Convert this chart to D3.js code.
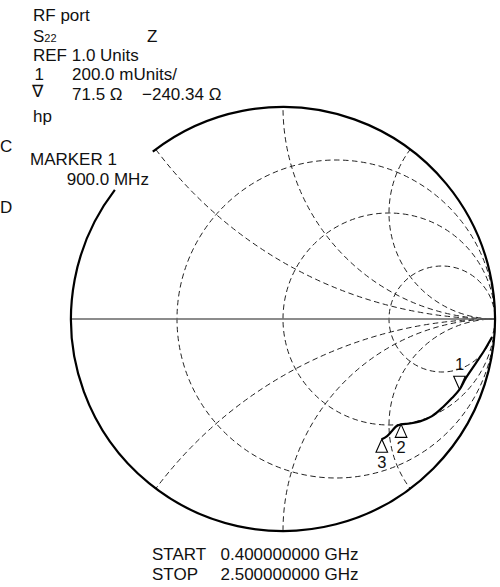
<!DOCTYPE html>
<html><head><meta charset="utf-8">
<script src="https://cdn.jsdelivr.net/npm/d3@7"></script>
<style>
body{margin:0;background:#fff}
svg{display:block}
text{font-family:"Liberation Sans",Arial,Helvetica,sans-serif;fill:#111}
</style>
</head><body>
<svg id="chart" width="500" height="587"></svg>
<script>
// Smith chart graticule (normalised to Z0)
const resistanceCircles = [1/3, 1, 3];
const reactanceArcs = [0.5, 1, 2, -0.5, -1, -2];

// S22 trace, 0.4 – 2.5 GHz, reflection coefficient (real, imaginary)
const traceRe = [0.986, 0.948, 0.910, 0.863, 0.833, 0.797, 0.755, 0.703, 0.646, 0.599, 0.557, 0.533, 0.514, 0.491, 0.466];
const traceIm = [-0.085, -0.151, -0.208, -0.278, -0.332, -0.373, -0.415, -0.458, -0.483, -0.493, -0.497, -0.507, -0.528, -0.552, -0.567];

// Markers: marker 1 read-out in ohms, markers 2 and 3 as reflection coefficient
const z0 = 50;
const marker1Ohms = [71.5, -240.34];
const marker2Gamma = [0.557, -0.497];
const marker3Gamma = [0.466, -0.567];

// Annotation text
const headerLines = ["RF port", "REF 1.0 Units", "hp"];
const paramName = "S", paramIndex = "22", formatName = "Z";
const scaleText = "200.0 mUnits/";
const markerReadout = ["71.5 Ω", "−240.34 Ω"];
const markerTitle = ["MARKER 1", "900.0 MHz"];
const sideKeys = ["C", "D"];
const sweepNames = ["START", "STOP"];
const sweepValues = ["0.400000000 GHz", "2.500000000 GHz"];

const svg = d3.select("#chart");
const cx = 283, cy = 319, R = 212;
const gx = d3.scaleLinear().domain([-1, 1]).range([cx - R, cx + R]);
const gy = d3.scaleLinear().domain([-1, 1]).range([cy + R, cy - R]);
const k = R; // pixels per unit of |Γ|

// clip to the unit circle
svg.append("defs").append("clipPath").attr("id", "unit")
  .append("circle").attr("cx", gx(0)).attr("cy", gy(0)).attr("r", k);

const grid = svg.append("g").attr("clip-path", "url(#unit)")
  .attr("fill", "none").attr("stroke", "#222").attr("stroke-width", 1)
  .attr("stroke-dasharray", "5.5 3.5");

grid.selectAll("circle.r").data(resistanceCircles).join("circle")
  .attr("class", "r")
  .attr("cx", r => gx(r / (1 + r)))
  .attr("cy", gy(0))
  .attr("r", r => k / (1 + r));

grid.selectAll("circle.x").data(reactanceArcs).join("circle")
  .attr("class", "x")
  .attr("cx", gx(1))
  .attr("cy", x => gy(1 / x))
  .attr("r", x => k / Math.abs(x));

// real axis
svg.append("line")
  .attr("x1", gx(-1)).attr("x2", gx(1)).attr("y1", gy(0)).attr("y2", gy(0))
  .attr("stroke", "#666").attr("stroke-width", 1.3);

// outer circle, open behind the marker annotation
const a0 = Math.atan2(152 - cy, 153 - cx);
const a1 = Math.atan2(190 - cy, 115 - cx) + 2 * Math.PI;
const outer = d3.path();
outer.moveTo(cx + k * Math.cos(a0), cy + k * Math.sin(a0));
outer.arc(cx, cy, k, a0, a1, false);
svg.append("path").attr("d", outer.toString())
  .attr("fill", "none").attr("stroke", "#000").attr("stroke-width", 2.2);

// trace
const tracePts = traceRe.map((re, i) => [gx(re), gy(traceIm[i])]);
svg.append("path")
  .attr("d", d3.line().curve(d3.curveCatmullRom)(tracePts))
  .attr("fill", "none").attr("stroke", "#000").attr("stroke-width", 2.2)
  .attr("stroke-linejoin", "round");

// marker 1 from impedance
function gammaOf(rOhm, xOhm) {
  const a = rOhm / z0, b = xOhm / z0;
  const d = (a + 1) * (a + 1) + b * b;
  return [((a - 1) * (a + 1) + b * b) / d, (b * (a + 1) - b * (a - 1)) / d];
}
const m1 = gammaOf(marker1Ohms[0], marker1Ohms[1]);
const markers = [
  {id: "1", g: m1, down: true},
  {id: "2", g: marker2Gamma, down: false},
  {id: "3", g: marker3Gamma, down: false}
];
const tw = 5.8, th = 13;
const mg = svg.append("g");
markers.forEach(m => {
  const px = gx(m.g[0]), py = gy(m.g[1]);
  const s = m.down ? -1 : 1;
  mg.append("path")
    .attr("d", `M${px},${py}L${px - tw},${py + s * th}L${px + tw},${py + s * th}Z`)
    .attr("fill", "#fff").attr("stroke", "#000").attr("stroke-width", 1.1);
  mg.append("text").attr("x", px).attr("text-anchor", "middle")
    .attr("y", m.down ? py - th - 6 : py + th + 16)
    .attr("font-size", 16.5).text(m.id);
});

// annotation block
const fs = 17;
const t = svg.append("g").attr("font-size", fs);
const lx = 33, vx = 72;
t.append("text").attr("x", lx).attr("y", 20.7).text(headerLines[0]);
const s22 = t.append("text").attr("x", lx).attr("y", 42.3);
s22.append("tspan").text(paramName);
s22.append("tspan").attr("font-size", 11).text(paramIndex);
t.append("text").attr("x", 147).attr("y", 42.3).text(formatName);
t.append("text").attr("x", lx).attr("y", 61).text(headerLines[1]);
t.append("text").attr("x", lx + 1.5).attr("y", 80).text("1");
t.append("text").attr("x", vx).attr("y", 80).text(scaleText);
t.append("text").attr("x", lx - 1.5).attr("y", 97).attr("font-family", "DejaVu Sans").attr("font-size", 17).text("∇");
t.append("text").attr("x", vx).attr("y", 100).text(markerReadout[0]);
t.append("text").attr("x", 142).attr("y", 100).text(markerReadout[1]);
t.append("text").attr("x", lx).attr("y", 121.7).text(headerLines[2]);

t.append("text").attr("x", 0).attr("y", 151.7).text(sideKeys[0]);
t.append("text").attr("x", 0).attr("y", 213).text(sideKeys[1]);
t.append("text").attr("x", 30).attr("y", 165).text(markerTitle[0]);
t.append("text").attr("x", 66.7).attr("y", 185).text(markerTitle[1]);

sweepNames.forEach((n, i) => {
  t.append("text").attr("x", 152).attr("y", 560 + i * 20).text(n);
  t.append("text").attr("x", 220.5).attr("y", 560 + i * 20).text(sweepValues[i]);
});
</script>
</body></html>
